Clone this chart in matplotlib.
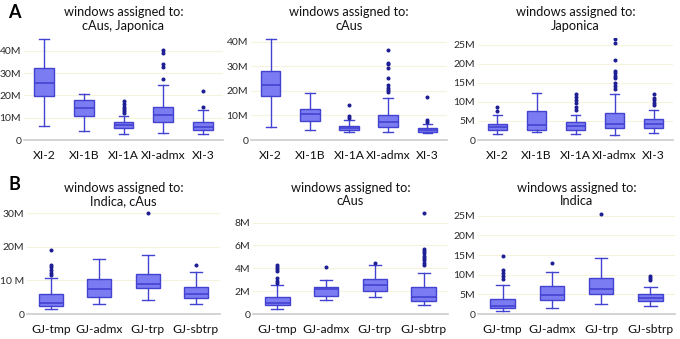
import matplotlib.pyplot as plt

plt.rcParams['font.family'] = ['Lato', 'DejaVu Sans']

# box statistics (millions): whislo, q1, med, q3, whishi, fliers
xi_groups = ['XI-2', 'XI-1B', 'XI-1A', 'XI-admx', 'XI-3']
gj_groups = ['GJ-tmp', 'GJ-admx', 'GJ-trp', 'GJ-sbtrp']

a1_stats = [
    [6.3, 19.5, 25.6, 32.2, 45.2, []],
    [4.2, 10.8, 14.3, 18.0, 20.6, []],
    [2.6, 5.3, 6.5, 7.9, 10.9, [12.0, 13.0, 14.0, 15.0, 16.2, 17.5]],
    [3.0, 7.9, 11.3, 15.0, 24.6, [27.2, 32.8, 34.2, 39.2, 40.3]],
    [2.5, 4.5, 6.0, 7.9, 13.4, [14.6, 22.0]],
]
a2_stats = [
    [5.4, 17.9, 22.2, 28.2, 41.0, []],
    [4.1, 7.9, 10.5, 12.8, 19.2, []],
    [3.3, 4.1, 5.0, 5.8, 8.2, [8.9, 9.7, 14.1]],
    [3.1, 5.2, 7.2, 10.2, 16.9, [19.7, 20.5, 21.3, 22.3, 25.1, 29.2, 30.8, 31.5, 36.8]],
    [3.0, 3.4, 4.2, 4.7, 6.4, [7.4, 8.3, 17.5]],
]
a3_stats = [
    [1.6, 2.5, 3.4, 4.2, 6.6, [7.6, 8.8]],
    [2.2, 2.5, 3.9, 7.5, 12.3, []],
    [1.6, 2.6, 3.7, 4.6, 6.6, [7.9, 8.8, 9.6, 10.5, 11.2, 12.0]],
    [1.3, 3.1, 4.1, 7.0, 12.0, [13.3, 14.2, 15.0, 16.3, 16.9, 17.6, 18.2, 21.1, 25.4, 26.5]],
    [1.8, 3.1, 4.3, 5.4, 7.9, [9.2, 9.8, 10.4, 11.1, 12.0]],
]
b1_stats = [
    [1.4, 2.4, 3.2, 5.8, 10.6, [11.6, 12.3, 13.1, 13.9, 14.5, 19.0]],
    [2.9, 5.0, 7.3, 10.4, 16.2, []],
    [4.3, 7.6, 9.0, 11.9, 17.4, [30.0]],
    [2.9, 4.9, 6.0, 7.9, 12.6, [14.6]],
]
b2_stats = [
    [0.4, 0.78, 1.0, 1.45, 2.5, [2.7, 2.85, 3.15, 3.8, 3.95, 4.1, 4.25]],
    [1.2, 1.55, 2.15, 2.4, 2.95, [4.15]],
    [1.45, 2.05, 2.55, 3.05, 4.3, [4.5]],
    [0.8, 1.15, 1.5, 2.4, 3.6, [4.3, 4.5, 4.7, 4.9, 5.1, 5.3, 5.5, 5.7, 8.8]],
]
b3_stats = [
    [0.85, 1.5, 2.0, 3.9, 7.5, [9.0, 9.7, 10.4, 11.1, 14.7]],
    [1.6, 3.5, 4.9, 7.1, 10.6, [13.0]],
    [2.5, 5.0, 6.3, 9.1, 14.3, [25.4]],
    [2.1, 3.4, 4.2, 5.2, 6.8, [8.6, 9.1, 9.6]],
]

panels = [
    # stats, groups, title line 2, ticks, tick labels, ylim, rect(px: left, right, top, bottom), title pad
    (a1_stats, xi_groups, 'cAus, Japonica', [0, 10, 20, 30, 40], ['0', '10M', '20M', '30M', '40M'], 45.7, (24, 223, 38, 140), 6),
    (a2_stats, xi_groups, 'cAus', [0, 10, 20, 30, 40], ['0', '10M', '20M', '30M', '40M'], 41.5, (251, 447, 38, 140), 6),
    (a3_stats, xi_groups, 'Japonica', [0, 5, 10, 15, 20, 25], ['0', '5M', '10M', '15M', '20M', '25M'], 26.8, (478, 673, 38, 140), 6),
    (b1_stats, gj_groups, 'Indica, cAus', [0, 10, 20, 30], ['0', '10 M', '20M', '30M'], 31.5, (27, 220, 208, 314), 2),
    (b2_stats, gj_groups, 'cAus', [0, 2, 4, 6, 8], ['0', '2M', '4M', '6M', '8M'], 9.27, (253, 448, 208, 314), 2),
    (b3_stats, gj_groups, 'Indica', [0, 5, 10, 15, 20, 25], ['0', '5M', '10M', '15M', '20M', '25M'], 27.0, (478, 675, 208, 314), 2),
]

W, H = 680, 339
fig = plt.figure(figsize=(6.8, 3.39), dpi=100)

fill = '#7b7bf2'
edge = '#4343d2'

for stats, groups, sub, ticks, tlabels, ytop, (l, r, t, b), tpad in panels:
    ax = fig.add_axes([l / W, 1 - b / H, (r - l) / W, (b - t) / H])
    bxp_stats = []
    for name, s in zip(groups, stats):
        bxp_stats.append(dict(label=name, whislo=s[0], q1=s[1], med=s[2], q3=s[3],
                              whishi=s[4], fliers=s[5]))
    ax.bxp(bxp_stats, positions=range(len(groups)), widths=0.5, patch_artist=True,
           showfliers=True,
           boxprops=dict(facecolor=fill, edgecolor=edge, linewidth=1.0),
           medianprops=dict(color=edge, linewidth=1.2),
           whiskerprops=dict(color=edge, linewidth=1.0),
           capprops=dict(color=edge, linewidth=1.0),
           flierprops=dict(marker='o', markersize=1.9, markerfacecolor='#1f1f95',
                           markeredgecolor='#1f1f95'))
    ax.set_xlim(-0.5, len(groups) - 0.5)
    ax.set_ylim(0, ytop)
    ax.set_yticks(ticks)
    ax.set_yticklabels(tlabels)
    ax.set_xticks(range(len(groups)))
    ax.set_xticklabels(groups)
    ax.tick_params(axis='y', length=0, labelsize=7.5, colors='#2a2a2a', pad=2)
    ax.tick_params(axis='x', length=0, labelsize=8.7, colors='#111111', pad=7)
    for sp in ['left', 'right', 'top']:
        ax.spines[sp].set_visible(False)
    ax.spines['bottom'].set_color('#cccccc')
    ax.spines['bottom'].set_linewidth(1.2)
    ax.yaxis.grid(True, color='#f6f3dc', linewidth=0.8)
    ax.set_axisbelow(True)
    ax.set_title('windows assigned to:\n' + sub, fontsize=9.2, color='#111111',
                 pad=tpad, linespacing=1.15)

fig.text(8 / W, 1 - 12 / H, 'A', fontsize=13, fontweight='bold', va='center', ha='left')
fig.text(8 / W, 1 - 185 / H, 'B', fontsize=13, fontweight='bold', va='center', ha='left')

fig.savefig('out.png', dpi=100)
